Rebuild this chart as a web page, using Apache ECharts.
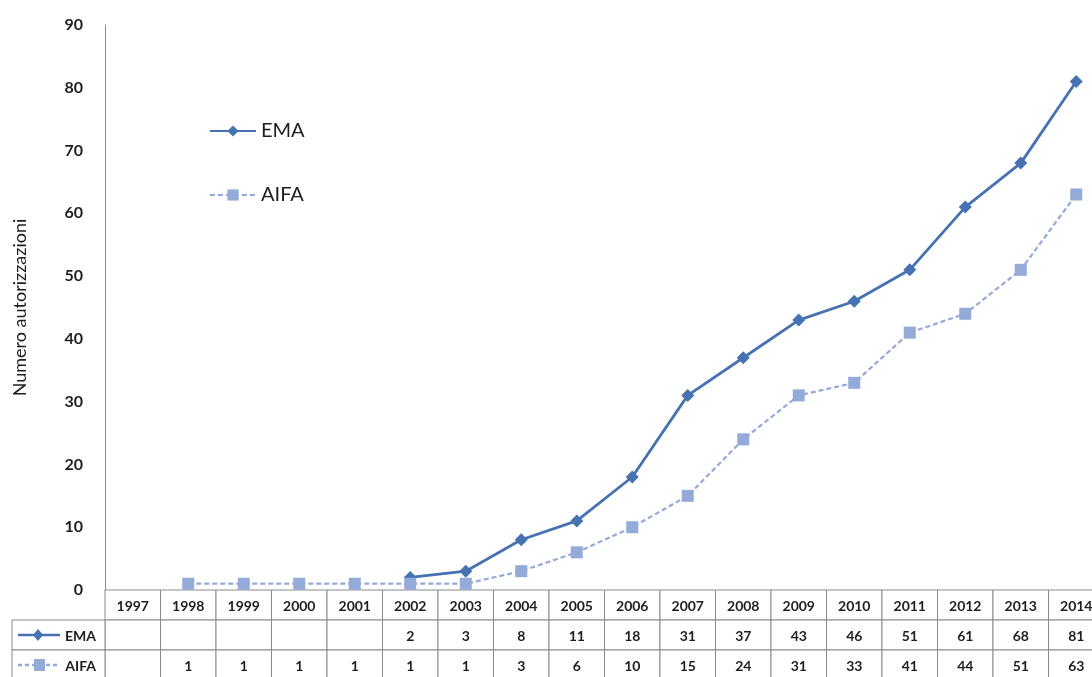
<!DOCTYPE html>
<html>
<head>
<meta charset="utf-8">
<script src="https://cdn.jsdelivr.net/npm/echarts@6/dist/echarts.min.js"></script>
<style>
  html, body { margin: 0; padding: 0; background: #fff; }
  #chart { width: 1092px; height: 677px; }
</style>
</head>
<body>
<div id="chart"></div>
<script>
// Authorisations per year (cumulative), EMA vs AIFA
const years = ['1997', '1998', '1999', '2000', '2001', '2002', '2003', '2004', '2005',
               '2006', '2007', '2008', '2009', '2010', '2011', '2012', '2013', '2014'];
const emaValues = [null, null, null, null, null, 2, 3, 8, 11, 18, 31, 37, 43, 46, 51, 61, 68, 81];
const aifaValues = [null, 1, 1, 1, 1, 1, 1, 3, 6, 10, 15, 24, 31, 33, 41, 44, 51, 63];
const seriesNames = ['EMA', 'AIFA'];
const yMin = 0, yMax = 90, yStep = 10;

const EMA_COLOR = '#4672b2';
const AIFA_COLOR = '#94aad8';
const TEXT = '#1e1e1e';
const BORDER = '#8a8a8a';
const FONT = 'Lato, "Open Sans", sans-serif';

// Table cells: row 0 = years, row 1 = EMA, row 2 = AIFA
const tableCells = [];
years.forEach((y, i) => {
  tableCells.push([i, 0, y]);
  tableCells.push([i, 1, emaValues[i] == null ? '' : String(emaValues[i])]);
  tableCells.push([i, 2, aifaValues[i] == null ? '' : String(aifaValues[i])]);
});

function renderCell(params, api) {
  const col = api.value(0), row = api.value(1);
  const c = api.coord([col, row]);
  const s = api.size([1, 1]);
  const text = tableCells[params.dataIndex][2];
  return {
    type: 'group',
    children: [
      { type: 'rect',
        shape: { x: c[0] - s[0] / 2, y: c[1] - s[1] / 2, width: s[0], height: s[1] },
        style: { fill: '#fff', stroke: BORDER, lineWidth: 1 } },
      { type: 'text',
        style: { x: c[0], y: c[1] + 1, text: text, align: 'center', verticalAlign: 'middle',
                 fill: TEXT, font: 'bold 14px ' + FONT } }
    ]
  };
}

// Row header cells with a small key of each series
function renderRowHeader(params, api) {
  const row = api.value(0);
  const c = api.coord([0, row]);
  const s = api.size([1, 1]);
  const left = 12, right = params.coordSys.x;
  const top = c[1] - s[1] / 2;
  const mid = c[1];
  const isEma = row === 1;
  const color = isEma ? EMA_COLOR : AIFA_COLOR;
  const children = [
    { type: 'rect', shape: { x: left, y: top, width: right - left, height: s[1] },
      style: { fill: '#fff', stroke: BORDER, lineWidth: 1 } },
    { type: 'line', shape: { x1: 18, y1: mid, x2: 60, y2: mid },
      style: { stroke: color, lineWidth: 2.5, lineDash: isEma ? null : [4, 3] } }
  ];
  if (isEma) {
    children.push({ type: 'polygon', shape: { points: [[38, mid - 6], [43, mid], [38, mid + 6], [33, mid]] },
                    style: { fill: color } });
  } else {
    children.push({ type: 'rect', shape: { x: 34, y: mid - 6, width: 11, height: 12 }, style: { fill: color } });
  }
  children.push({ type: 'text', style: { x: 96, y: mid + 1, text: seriesNames[row - 1], align: 'right',
                  verticalAlign: 'middle', fill: TEXT, font: 'bold 14px ' + FONT } });
  return { type: 'group', children };
}

const chart = echarts.init(document.getElementById('chart'), null, { renderer: 'canvas' });
chart.setOption({
  animation: false,
  backgroundColor: '#fff',
  textStyle: { fontFamily: FONT },
  legend: {
    data: seriesNames,
    orient: 'vertical',
    left: 204, top: 116,
    itemWidth: 46, itemHeight: 14, itemGap: 44,
    textStyle: { fontSize: 20, color: TEXT, fontFamily: FONT }
  },
  grid: [
    { left: 105, width: 999, top: 25, height: 565, outerBoundsMode: 'none', containLabel: false },
    { left: 105, width: 999, top: 590, height: 90, outerBoundsMode: 'none', containLabel: false }
  ],
  xAxis: [
    { type: 'category', gridIndex: 0, data: years, boundaryGap: true,
      axisLine: { lineStyle: { color: BORDER, width: 1 } },
      axisTick: { show: false }, axisLabel: { show: false }, splitLine: { show: false } },
    { type: 'category', gridIndex: 1, data: years, boundaryGap: true, show: false }
  ],
  yAxis: [
    { type: 'value', gridIndex: 0, min: yMin, max: yMax, interval: yStep,
      name: 'Numero autorizzazioni', nameLocation: 'middle', nameGap: 76, nameRotate: 90,
      nameTextStyle: { fontSize: 18, color: TEXT, fontFamily: FONT },
      axisLine: { show: true, lineStyle: { color: BORDER, width: 1 } },
      axisTick: { show: false },
      axisLabel: { fontSize: 16, fontWeight: 'bold', color: TEXT, margin: 22, fontFamily: FONT },
      splitLine: { show: false } },
    { type: 'category', gridIndex: 1, data: ['years', 'EMA', 'AIFA'], inverse: true, show: false }
  ],
  series: [
    { name: 'EMA', type: 'line', xAxisIndex: 0, yAxisIndex: 0, data: emaValues,
      symbol: 'diamond', symbolSize: 13, showAllSymbol: true,
      itemStyle: { color: EMA_COLOR },
      lineStyle: { color: EMA_COLOR, width: 2.8 } },
    { name: 'AIFA', type: 'line', xAxisIndex: 0, yAxisIndex: 0, data: aifaValues,
      symbol: 'rect', symbolSize: 12, showAllSymbol: true,
      itemStyle: { color: AIFA_COLOR },
      lineStyle: { color: AIFA_COLOR, width: 2.2, type: [5, 3] } },
    { type: 'custom', xAxisIndex: 1, yAxisIndex: 1, data: tableCells.map(d => [d[0], d[1]]),
      renderItem: renderCell, silent: true, clip: false },
    { type: 'custom', xAxisIndex: 1, yAxisIndex: 1, data: [[1], [2]],
      encode: { y: 0 }, renderItem: renderRowHeader, silent: true, clip: false }
  ]
});
</script>
</body>
</html>
